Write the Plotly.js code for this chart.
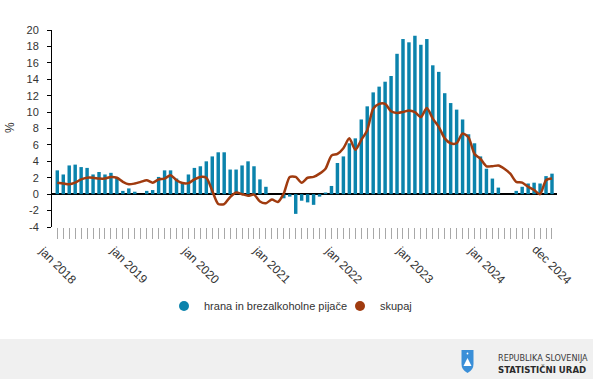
<!DOCTYPE html>
<html>
<head>
<meta charset="utf-8">
<script src="https://cdn.plot.ly/plotly-3.0.1.min.js"></script>
<style>
html,body{margin:0;padding:0;background:#fff;}
#chart{width:593px;height:379px;}
</style>
</head>
<body>
<div id="chart"></div>
<script>
// ---- data ----
const monthNames = ['jan','feb','mar','apr','maj','jun','jul','avg','sep','okt','nov','dec'];
const years = [2018, 2019, 2020, 2021, 2022, 2023, 2024];
const categories = [];
years.forEach(y => monthNames.forEach(m => categories.push(m + ' ' + y)));

const hranaName = 'hrana in brezalkoholne pijače';
const skupajName = 'skupaj';

const hrana = [
  2.9, 2.4, 3.5, 3.6, 3.3, 3.2, 2.4, 2.7, 2.4, 2.6, 2.0, 0.4,
  0.7, 0.3, 0.0, 0.4, 0.5, 2.1, 2.9, 2.9, 1.9, 1.4, 2.4, 3.2,
  3.4, 4.0, 4.6, 5.1, 5.1, 3.0, 3.0, 3.5, 4.0, 3.4, 1.8, 0.9,
  0.0, 0.0, -0.5, -0.3, -2.4, -0.8, -1.0, -1.3, -0.3, 0.2, 1.0, 3.8,
  4.6, 6.2, 6.8, 9.1, 10.7, 12.4, 13.1, 13.7, 14.4, 17.1, 18.9, 18.5,
  19.3, 18.2, 18.9, 15.7, 14.9, 12.3, 11.1, 10.3, 9.1, 7.3, 6.2, 4.6,
  3.1, 1.9, 0.8, 0.0, 0.0, 0.4, 0.9, 1.3, 1.4, 1.3, 2.2, 2.5
];

const skupaj = [
  1.4, 1.3, 1.2, 1.4, 1.8, 2.0, 2.0, 1.9, 1.9, 2.1, 2.0, 1.5,
  1.2, 1.3, 1.5, 1.7, 1.4, 1.8, 1.9, 2.3, 1.7, 1.35, 1.35, 1.8,
  2.1, 2.0, 0.4, -1.2, -1.2, -0.35, 0.2, 0.0, -0.2, -0.05, -0.9, -1.1,
  -0.65, -0.95, 0.1, 2.1, 2.1, 1.4, 2.0, 2.1, 2.5, 3.1, 4.7, 4.9,
  5.6, 6.8, 5.4, 6.6, 7.8, 10.4, 11.0, 11.0, 10.1, 9.9, 10.0, 10.2,
  10.0, 9.4, 10.5, 9.2, 8.2, 6.8, 6.2, 6.2, 7.4, 6.9, 4.9, 4.3,
  3.4, 3.4, 3.5, 3.1, 2.5, 1.5, 1.4, 0.9, 0.5, 0.0, 1.7, 1.9
];

const labelIdx = [0, 12, 24, 36, 48, 60, 72, 83];
const yTicks = [-4, -2, 0, 2, 4, 6, 8, 10, 12, 14, 16, 18, 20];

// ---- styling / geometry ----
const W = 593, H = 379;
const L = 52, R = 557, T = 30, B = 227;
const px = x => (x - L) / (R - L);
const py = y => (B - y) / (B - T);
const barColor = '#0b83ac';
const lineColor = '#a03b0f';
const txt = '#333333';
const font = 'Arial, "Liberation Sans", sans-serif';

const traces = [
  {type: 'bar', x: categories, y: hrana, name: hranaName, marker: {color: barColor}, showlegend: false, hoverinfo: 'x+y'},
  {type: 'scatter', mode: 'lines', x: categories, y: skupaj, name: skupajName,
   line: {color: lineColor, width: 2.5, shape: 'spline', smoothing: 0.7}, showlegend: false},
  {type: 'scatter', mode: 'markers', x: [null], y: [null], name: hranaName,
   marker: {color: barColor, size: 10, symbol: 'circle'}, legend: 'legend'},
  {type: 'scatter', mode: 'markers', x: [null], y: [null], name: skupajName,
   marker: {color: lineColor, size: 10, symbol: 'circle'}, legend: 'legend2'}
];

const annotations = labelIdx.map(i => ({
  x: categories[i], xref: 'x', y: py(265), yref: 'paper',
  text: categories[i], showarrow: false, textangle: 45,
  xanchor: 'center', yanchor: 'middle',
  font: {family: font, size: 12, color: txt}
}));
annotations.push({
  x: px(10), xref: 'paper', y: py(128), yref: 'paper', text: '%', showarrow: false,
  textangle: -90, xanchor: 'center', yanchor: 'middle', font: {family: font, size: 12, color: txt}
});
annotations.push({
  x: px(496), xref: 'paper', y: py(358), yref: 'paper', text: 'REPUBLIKA SLOVENIJA', showarrow: false,
  xanchor: 'left', yanchor: 'middle',
  font: {family: '"Liberation Sans Narrow", "DejaVu Sans Condensed", Arial, sans-serif', size: 9, color: '#3a3a3a'}
});
annotations.push({
  x: px(496), xref: 'paper', y: py(369), yref: 'paper', text: '<b>STATISTIČNI URAD</b>', showarrow: false,
  xanchor: 'left', yanchor: 'middle',
  font: {family: '"Liberation Sans Narrow", "DejaVu Sans Condensed", Arial, sans-serif', size: 9.5, color: '#2a2a2a'}
});

const shieldPath = 'M ' + px(461.5) + ' ' + py(350) + ' L ' + px(473.5) + ' ' + py(350) +
  ' L ' + px(473.5) + ' ' + py(364) + ' Q ' + px(473.5) + ' ' + py(370) + ' ' + px(467.5) + ' ' + py(373) +
  ' Q ' + px(461.5) + ' ' + py(370) + ' ' + px(461.5) + ' ' + py(364) + ' Z';
const mountainPath = 'M ' + px(463.5) + ' ' + py(366) + ' L ' + px(465.5) + ' ' + py(362) + ' L ' + px(467.5) + ' ' + py(358) +
  ' L ' + px(469.5) + ' ' + py(362) + ' L ' + px(471.5) + ' ' + py(366) + ' Z';

const shapes = [
  {type: 'rect', xref: 'paper', yref: 'paper', x0: px(0), x1: px(W), y0: py(339), y1: py(H + 2),
   fillcolor: '#f0f0f0', line: {width: 0}, layer: 'below'},
  {type: 'path', xref: 'paper', yref: 'paper', path: shieldPath, fillcolor: '#3a8fd8', line: {width: 0}},
  {type: 'path', xref: 'paper', yref: 'paper', path: mountainPath, fillcolor: '#ffffff', line: {width: 0}},
  {type: 'circle', xref: 'paper', yref: 'paper', x0: px(466.6), x1: px(468.4), y0: py(352.6), y1: py(354.4),
   fillcolor: '#ffffff', line: {width: 0}}
];

const layout = {
  width: W, height: H,
  margin: {l: L, r: W - R, t: T, b: H - B, pad: 0},
  paper_bgcolor: '#ffffff', plot_bgcolor: 'rgba(0,0,0,0)',
  font: {family: font, size: 11, color: txt},
  bargap: 0.42,
  showlegend: true,
  xaxis: {
    type: 'category', range: [-0.89, 83.84], showgrid: false, zeroline: false, showline: false,
    ticks: 'outside', ticklen: 11, tickwidth: 1, tickcolor: '#a8a8a8',
    tickmode: 'array', tickvals: categories, showticklabels: false, fixedrange: true
  },
  yaxis: {
    range: [-4, 20], tickmode: 'array', tickvals: yTicks, ticktext: yTicks.map(String),
    showgrid: false, zeroline: true, zerolinecolor: '#000000', zerolinewidth: 1.5,
    showline: true, linecolor: '#000000', linewidth: 1,
    ticks: 'outside', ticklen: 4, tickcolor: '#000000', tickwidth: 1, ticklabelstandoff: 6,
    tickfont: {family: font, size: 11, color: txt}, fixedrange: true
  },
  legend: {orientation: 'h', x: px(164), xanchor: 'left', y: py(306), yanchor: 'middle',
    font: {family: font, size: 11, color: txt}, bgcolor: 'rgba(0,0,0,0)', itemclick: false, itemdoubleclick: false},
  legend2: {orientation: 'h', x: px(340), xanchor: 'left', y: py(306), yanchor: 'middle',
    font: {family: font, size: 11, color: txt}, bgcolor: 'rgba(0,0,0,0)', itemclick: false, itemdoubleclick: false},
  annotations: annotations,
  shapes: shapes
};

Plotly.newPlot('chart', traces, layout, {displayModeBar: false, staticPlot: true});
</script>
</body>
</html>
